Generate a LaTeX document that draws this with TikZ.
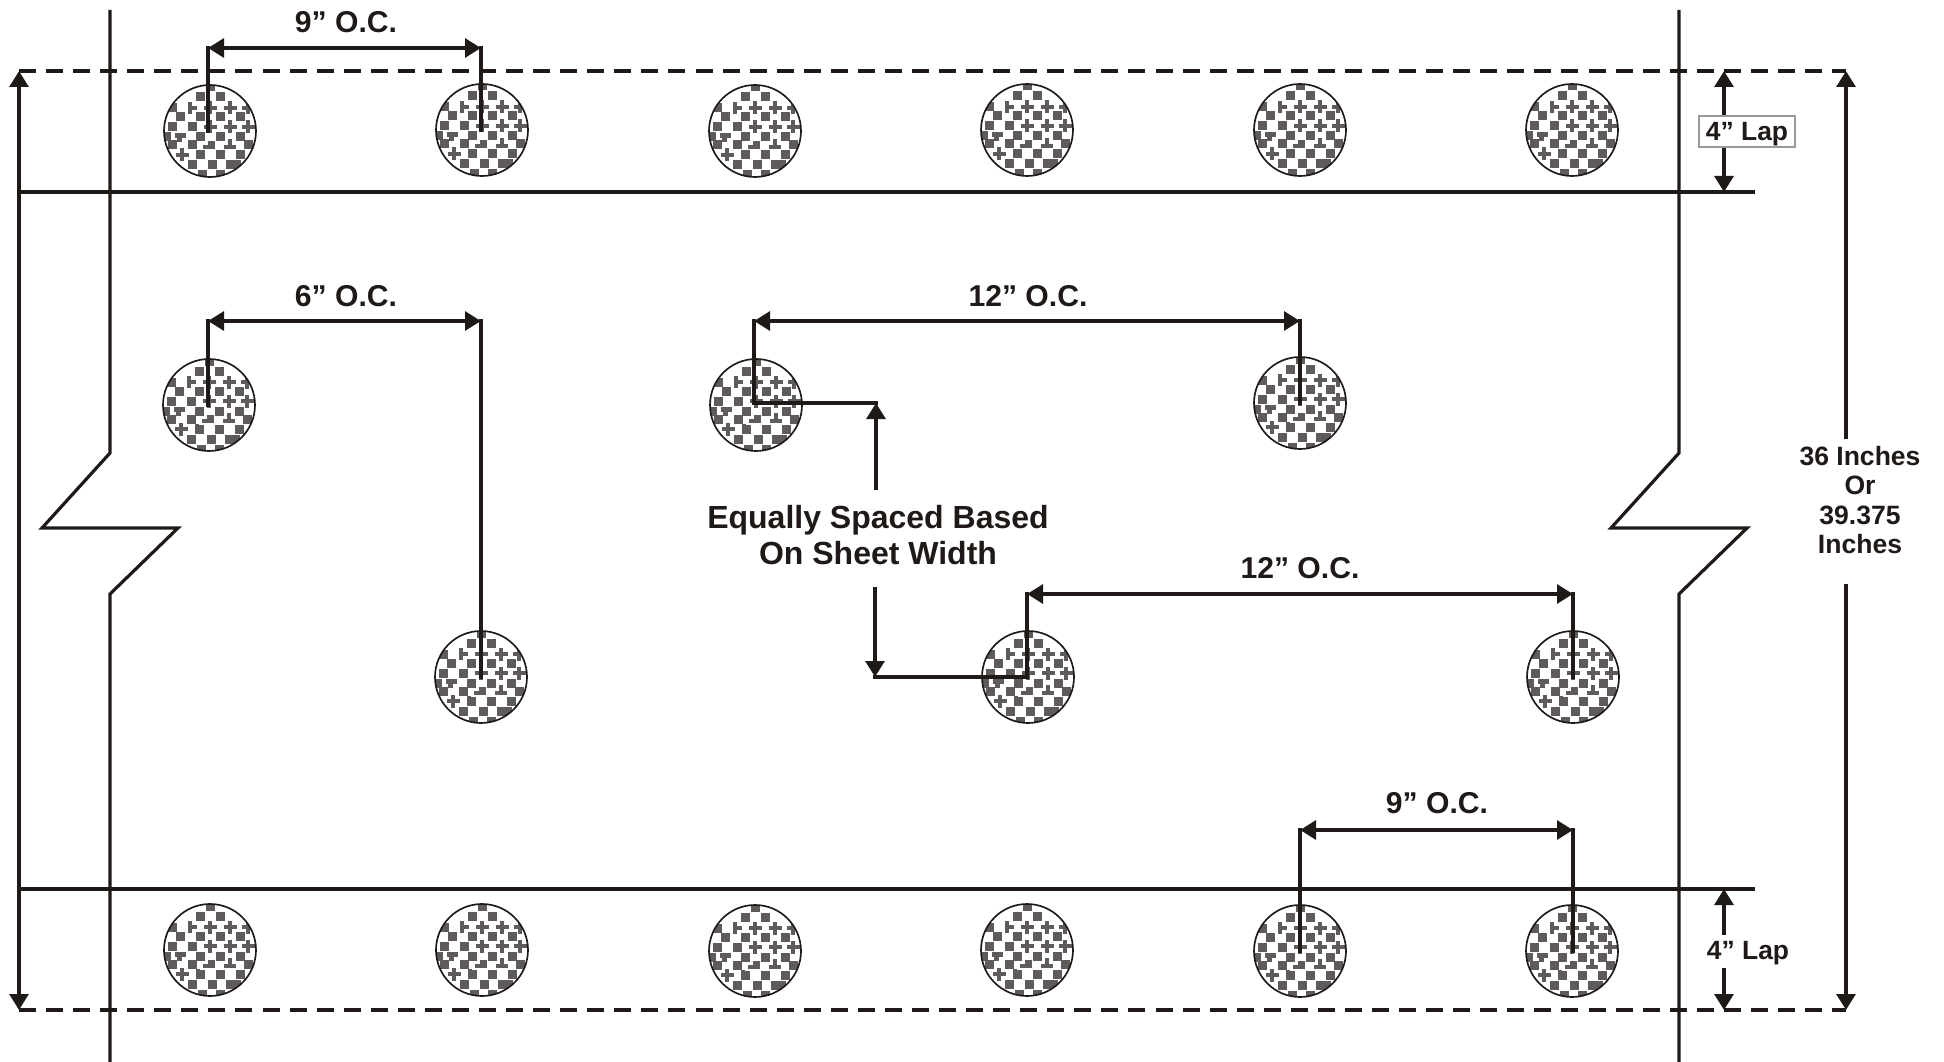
\documentclass[tikz,border=0pt]{standalone}
\usepackage{fontspec}
\setmainfont{Liberation Sans}
\usetikzlibrary{arrows.meta}
\definecolor{ink}{HTML}{1F1A17}
\definecolor{rivetgray}{HTML}{5F5B5A}
\newcommand{\rsq}[2]{\fill[rivetgray] ({#1-4.5},{#2-4.5}) rectangle ({#1+4.5},{#2+4.5});}
\newcommand{\rplus}[2]{\fill[rivetgray] ({#1-6.5},{#2-2.2}) rectangle ({#1+6.5},{#2+2.2}); \fill[rivetgray] ({#1-2.2},{#2-6.5}) rectangle ({#1+2.2},{#2+6.5});}
\newcommand{\rivetpattern}{%
  \begin{scope}[shift={(path picture bounding box.center)}]
    \foreach \a/\b in {-10/-34,10/-34,-38/-23,-30/-14,-10/-14,10/-14,30/-14,-38/-4,-18/-4,
                       -10/6,10/6,30/6,-38/14,-18/14,38/14,-10/24,10/24,30/24,-18/34,2/34,20/34,26/34,-8/44,10/44,0/-44,-44/6}
      {\rsq{\a}{\b}}
    \foreach \a/\b in {0/-23,20/-23,38/-23,0/-4,20/-4,38/-4,-28/24}
      {\rplus{\a}{\b}}
    % T shapes and diagonal joins
    \fill[rivetgray] (-35,2) rectangle (-24,7);
    \fill[rivetgray] (-33,7) rectangle (-28,11);
    \fill[rivetgray] (-22,-29) rectangle (-18,-17);
    \fill[rivetgray] (-18,-25) rectangle (-13,-21);
    \fill[rivetgray] (14,14) rectangle (26,18);
    \fill[rivetgray] (18,8) rectangle (22,14);
    \fill[rivetgray] (-2,10) rectangle (5,18);
    \fill[rivetgray] (-7,14) rectangle (-2,18);
    \fill[rivetgray] (-14,19) rectangle (-10,24);
  \end{scope}}
\tikzset{
  rivet/.style={circle,draw=ink,line width=1.25pt,fill=white,minimum size=69pt,inner sep=0pt,outer sep=0pt,
    path picture={\rivetpattern}},
  sheet/.style={draw=ink,line width=3pt},
  edge line/.style={draw=ink,line width=2.4pt,line join=miter},
  lapdash/.style={draw=ink,line width=3pt,dash pattern=on 12.75pt off 7.545pt},
  leader/.style={draw=ink,line width=3pt,line cap=rect},
  dim/.style={draw=ink,line width=3pt,{Triangle[length=12pt,width=14pt,fill=ink]}-{Triangle[length=12pt,width=14pt,fill=ink]}},
  dimend/.style={draw=ink,line width=3pt,-{Triangle[length=12pt,width=14pt,fill=ink]}},
  lbl/.style={text=ink,inner sep=0pt,outer sep=0pt,font=\bfseries\fontsize{22.6}{26}\selectfont,anchor=base},
  lbllap/.style={text=ink,inner sep=0pt,outer sep=0pt,font=\bfseries\fontsize{19.8}{23}\selectfont,anchor=base},
  lapbox/.style={draw=gray!80,fill=white,line width=.8pt,minimum width=72pt,minimum height=23.25pt,inner sep=0pt,outer sep=0pt,
     text height=18pt,text depth=3.8pt,text=ink,font=\bfseries\fontsize{19.8}{23}\selectfont},
}
\begin{document}
\begin{tikzpicture}[x=.75pt,y=-.75pt]
\useasboundingbox (0,0) rectangle (1944,1062);
% rivets
\node[rivet] (r11) at (210,131) {};
\node[rivet] (r12) at (482,130) {};
\node[rivet] (r13) at (755,131) {};
\node[rivet] (r14) at (1027,130) {};
\node[rivet] (r15) at (1300,130) {};
\node[rivet] (r16) at (1572,130) {};
\node[rivet] (r21) at (209,405) {};
\node[rivet] (r22) at (756,405) {};
\node[rivet] (r23) at (1300,403) {};
\node[rivet] (r31) at (481,677) {};
\node[rivet] (r32) at (1028,677) {};
\node[rivet] (r33) at (1573,677) {};
\node[rivet] (r41) at (210,950) {};
\node[rivet] (r42) at (482,950) {};
\node[rivet] (r43) at (755,951) {};
\node[rivet] (r44) at (1027,950) {};
\node[rivet] (r45) at (1300,951) {};
\node[rivet] (r46) at (1572,951) {};
% sheet edges
\coordinate (tl) at (19,71); \coordinate (tr) at (1846,71);
\coordinate (bl) at (19,1010); \coordinate (br) at (1846,1010);
\coordinate (ul) at (19,192); \coordinate (ur) at (1755,192);
\coordinate (ll) at (19,889); \coordinate (lr) at (1755,889);
\draw[sheet] (ul) -- (ur);
\draw[sheet] (ll) -- (lr);
\draw[lapdash] (tl) -- (tr);
\draw[lapdash] (bl) -- (br);
\coordinate (la) at (110,10); \coordinate (lb) at (110,453); \coordinate (lc) at (42,528);
\coordinate (ld) at (178,528); \coordinate (le) at (110,594); \coordinate (lf) at (110,1062);
\draw[edge line] (la) -- (lb) -- (lc) -- (ld) -- (le) -- (lf);
\coordinate (ra) at (1679,10); \coordinate (rb) at (1679,453); \coordinate (rc) at (1611,528);
\coordinate (rd) at (1747,528); \coordinate (re) at (1679,594); \coordinate (rf) at (1679,1062);
\draw[edge line] (ra) -- (rb) -- (rc) -- (rd) -- (re) -- (rf);
% left overall arrow
\draw[dim] (tl) -- (bl);
% top 9 OC
\coordinate (a1) at (208,48); \coordinate (a2) at (481,48);
\draw[leader] (a1) -- (a1 |- r11.center);
\draw[leader] (a2) -- (a2 |- r12.center);
\draw[dim] (a1) -- (a2);
\node[lbl] (t1) at (346,33) {9” O.C.};
% 6 OC
\coordinate (b1) at (208,321); \coordinate (b2) at (481,321);
\draw[leader] (b1) -- (b1 |- r21.center);
\draw[leader] (b2) -- (b2 |- r31.center);
\draw[dim] (b1) -- (b2);
\node[lbl] (t2) at (346,307) {6” O.C.};
% 12 OC upper
\coordinate (c1) at (754,321); \coordinate (c2) at (1300,321);
\coordinate (c3) at (754,403); \coordinate (c4) at (876,403); \coordinate (c5) at (876,490);
\draw[leader] (c1) -- (c3) -- (c4);
\draw[leader] (c2) -- (r23.center);
\draw[dim] (c1) -- (c2);
\draw[dimend] (c5) -- (c4);
\node[lbl] (t3) at (1028,307) {12” O.C.};
% 12 OC lower
\coordinate (e1) at (1027,594); \coordinate (e2) at (1573,594);
\coordinate (e3) at (1027,677); \coordinate (e4) at (875,677); \coordinate (e5) at (875,587);
\draw[leader] (e1) -- (e3) -- (e4);
\draw[leader] (e2) -- (r33.center);
\draw[dim] (e1) -- (e2);
\draw[dimend] (e5) -- (e4);
\node[lbl] (t4) at (1300,578) {12” O.C.};
% center note
\node[text=ink,inner sep=0pt,font=\bfseries\fontsize{24}{27}\selectfont,align=center] (note) at (878,535) {Equally Spaced Based\\On Sheet Width};
% bottom 9 OC
\coordinate (f1) at (1300,830); \coordinate (f2) at (1573,830);
\draw[leader] (f1) -- (f1 |- r45.center);
\draw[leader] (f2) -- (f2 |- r46.center);
\draw[dim] (f1) -- (f2);
\node[lbl] (t5) at (1437,813) {9” O.C.};
% laps
\coordinate (g1) at (1724,71); \coordinate (g2) at (1724,192);
\draw[dim] (g1) -- (g2);
\node[lapbox] (lap1) at (1747,131.5) {4” Lap};
\coordinate (h1) at (1724,889); \coordinate (h2) at (1724,935); \coordinate (h3) at (1724,968); \coordinate (h4) at (1724,1010);
\draw[dimend] (h2) -- (h1);
\draw[dimend] (h3) -- (h4);
\node[lbllap] (lap2) at (1748,959) {4” Lap};
% overall right
\coordinate (i1) at (1846,439); \coordinate (i2) at (1846,584);
\draw[dimend] (i1) -- (tr);
\draw[dimend] (i2) -- (br);
\node[text=ink,inner sep=0pt,font=\bfseries\fontsize{19.9}{22.2}\selectfont,align=center] (overall) at (1860,500) {36 Inches\\Or\\39.375\\Inches};
\end{tikzpicture}
\end{document}
